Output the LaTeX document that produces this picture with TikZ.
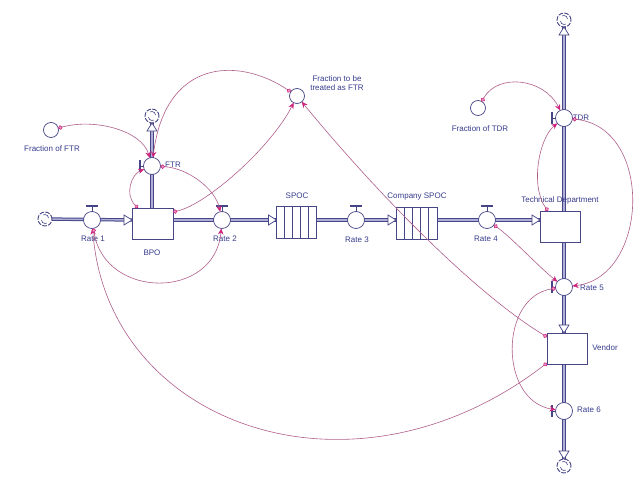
\documentclass[tikz,border=0pt]{standalone}
\usepackage{fontspec}
\setmainfont{Liberation Sans}
\usetikzlibrary{arrows.meta,calc}
\definecolor{flowc}{RGB}{70,70,135}
\definecolor{pipein}{RGB}{175,175,215}
\definecolor{txtc}{RGB}{55,60,140}
\definecolor{connc}{RGB}{175,95,140}
\definecolor{tipc}{RGB}{205,35,125}
\pgfdeclarelayer{bg}
\pgfsetlayers{bg,main}
\begin{document}
\begin{tikzpicture}[x=1pt,y=-1pt,
  every node/.style={inner sep=0pt, outer sep=0pt},
  lbl/.style={text=txtc, font=\fontsize{8}{9.5}\selectfont},
  valve/.style={circle, draw=flowc, fill=white, line width=0.7pt, minimum size=17pt},
  conv/.style={circle, draw=flowc, fill=white, line width=0.7pt, minimum size=15pt},
  stock/.style={rectangle, draw=flowc, fill=white, line width=0.7pt, minimum width=41pt, minimum height=31pt},
  cloudn/.style={circle, draw=flowc, fill=white, line width=0.9pt, minimum size=14pt, dash pattern=on 4.6pt off 1.4pt},
  swirl/.style={draw=flowc, line width=0.6pt},
  pipe/.style={draw=flowc, line width=1pt, double=pipein, double distance=1.4pt},
  tri/.style={draw=flowc, fill=white, line width=0.7pt},
  handle/.style={draw=flowc, line width=1.8pt},
  stem/.style={draw=flowc, line width=0.7pt},
  slat/.style={draw=flowc, line width=0.7pt},
  conn/.style={draw=connc, line width=0.6pt, {Circle[length=4.4pt,width=4.4pt,color=tipc,fill=tipc!45]}-{Stealth[length=6pt,width=5.4pt,color=tipc]}},
]
\useasboundingbox (0,0) rectangle (638,479);
\begin{pgfonlayer}{bg}
\fill[white] (0,0) rectangle (638,479);
\end{pgfonlayer}

% ---- nodes ----
\node[cloudn] (src) at (45,219) {};
\node[valve] (R1) at (92,220) {};
\node[stock] (BPO) at (152.5,223.5) {};
\node[valve] (FTR) at (152,166) {};
\node[cloudn] (cFTR) at (152,116) {};
\node[conv] (fFTR) at (51,130) {};
\node[valve] (R2) at (222,220) {};
\node[stock, minimum width=40pt, minimum height=32pt] (SPOC) at (296.5,222) {};
\node[valve] (R3) at (356,220) {};
\node[stock, minimum width=41pt, minimum height=32pt] (CSPOC) at (416.5,223) {};
\node[valve] (R4) at (487,220) {};
\node[stock, minimum width=40pt] (TD) at (560,226.5) {};
\node[valve] (TDR) at (564,118) {};
\node[cloudn] (cTDR) at (564,20) {};
\node[conv] (fTDR) at (478,108) {};
\node[valve] (R5) at (564,287) {};
\node[stock, minimum width=40pt] (V) at (567,348.5) {};
\node[valve] (R6) at (564,411) {};
\node[cloudn] (sink) at (564,466) {};
\node[conv] (fTreat) at (297,96) {};

% cloud swirls
\foreach \c in {src,cFTR,cTDR,sink} {
  \draw[swirl] ($(\c)+(-3.5,1)$) arc[start angle=180, end angle=300, radius=3.5pt];
  \draw[swirl] ($(\c)+(3.5,-1)$) arc[start angle=0, end angle=120, radius=3.5pt];
}

% conveyor slats
\foreach \k in {1,2,3,4} {
  \draw[slat] ($(SPOC.north west)+(8*\k,0)$) -- ($(SPOC.south west)+(8*\k,0)$);
  \draw[slat] ($(CSPOC.north west)+(8.2*\k,0)$) -- ($(CSPOC.south west)+(8.2*\k,0)$);
}

% ---- flow pipes ----
\begin{pgfonlayer}{bg}
\draw[pipe] (src) -- (BPO.west |- R1);
\draw[pipe] (BPO.east |- R2) -- (SPOC.west |- R2);
\draw[pipe] (SPOC.east |- R3) -- (CSPOC.west |- R3);
\draw[pipe] (CSPOC.east |- R4) -- (TD.west |- R4);
\draw[pipe] (BPO.north -| FTR) -- (cFTR);
\draw[pipe] (TD.north -| TDR) -- (cTDR);
\draw[pipe] (TD.south -| R5) -- (V.north -| R5);
\draw[pipe] (V.south -| R6) -- (sink);
\end{pgfonlayer}

% flow triangles
\draw[tri] (BPO.west |- R1) -- ++(-8,-5) -- ++(0,10) -- cycle;
\draw[tri] (SPOC.west |- R2) -- ++(-8,-5) -- ++(0,10) -- cycle;
\draw[tri] (CSPOC.west |- R3) -- ++(-8,-5) -- ++(0,10) -- cycle;
\draw[tri] (TD.west |- R4) -- ++(-8,-5) -- ++(0,10) -- cycle;
\draw[tri] (cFTR.south) -- ++(-5,8) -- ++(10,0) -- cycle;
\draw[tri] (cTDR.south) -- ++(-5,8) -- ++(10,0) -- cycle;
\draw[tri] (V.north -| R5) -- ++(-5,-8) -- ++(10,0) -- cycle;
\draw[tri] (sink.north) -- ++(-5,-8) -- ++(10,0) -- cycle;

% valve handles (top)
\foreach \v in {R1,R2,R3,R4} {
  \draw[stem] ($(\v)+(0,-14)$) -- (\v.north);
  \draw[handle] ($(\v)+(-6,-14)$) -- ($(\v)+(6,-14)$);
}
% valve handles (left)
\foreach \v in {FTR,TDR,R5,R6} {
  \draw[stem] ($(\v)+(-12,0)$) -- (\v.west);
  \draw[handle] ($(\v)+(-12,-6)$) -- ($(\v)+(-12,6)$);
}

% ---- labels ----
\node[lbl] (lR1) at (93,239) {Rate 1};
\node[lbl] (lBPO) at (152,253) {BPO};
\node[lbl] (lFTR) at (173,165) {FTR};
\node[lbl] (lfFTR) at (52,149) {Fraction of FTR};
\node[lbl, align=center] (lfTreat) at (337,83) {Fraction to be\\treated as FTR};
\node[lbl] (lR2) at (225,239) {Rate 2};
\node[lbl] (lSPOC) at (297,196) {SPOC};
\node[lbl] (lR3) at (357,240) {Rate 3};
\node[lbl] (lCSPOC) at (417,197) {Company SPOC};
\node[lbl] (lR4) at (486,239) {Rate 4};
\node[lbl] (lTD) at (560,200) {Technical Department};
\node[lbl] (lTDR) at (581,118) {TDR};
\node[lbl] (lfTDR) at (480,129) {Fraction of TDR};
\node[lbl] (lR5) at (592,288) {Rate 5};
\node[lbl] (lV) at (605,348) {Vendor};
\node[lbl] (lR6) at (589,410) {Rate 6};

% ---- connectors ----
\draw[conn] (fFTR) .. controls +(45,-12) and +(-10,-35) .. (FTR);
\draw[conn] (fTreat) .. controls +(-60,-40) and +(13,-106) .. (FTR);
\draw[conn] ([xshift=6pt]BPO.north west) .. controls +(-14,-14) and +(-20,8) .. (FTR);
\draw[conn] (FTR) .. controls +(35,2) and +(-7,-32) .. (R2);
\draw[conn] ([yshift=-4pt]BPO.north east) .. controls +(35,-8) and +(-25,50) .. (fTreat);
\draw[conn] ([yshift=-4pt]V.north west) .. controls +(-77,-47) and +(73,89) .. (fTreat);
\draw[conn] (R4) .. controls +(25,18) and +(-25,-20) .. (R5);
\draw[conn] ([xshift=8pt]TD.north west) .. controls +(-18,-25) and +(-25,20) .. (TDR);
\draw[conn] (TDR) .. controls +(90,10) and +(85,-10) .. (R5);
\draw[conn] (fTDR) .. controls +(20,-35) and +(-20,-40) .. (TDR);
\draw[conn] (R5) .. controls +(-65,10) and +(-65,-10) .. (R6);
\draw[conn] ([yshift=1pt]V.south west) .. controls +(-195,150) and +(15,205) .. (R1);
\draw[conn] (R1) .. controls +(13,80) and +(-7,80) .. (R2);
\end{tikzpicture}
\end{document}
